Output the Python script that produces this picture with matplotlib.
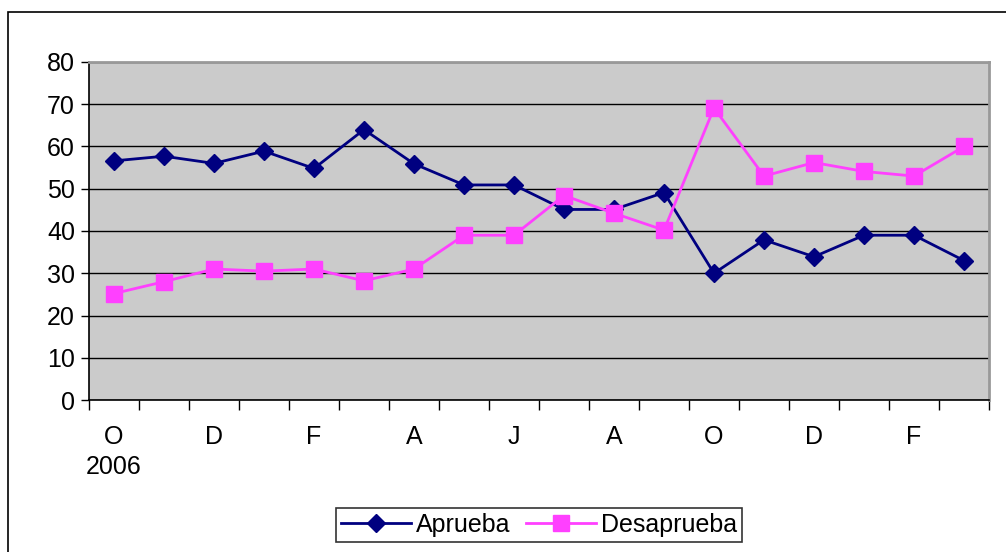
import matplotlib
matplotlib.use("Agg")
import matplotlib.pyplot as plt
from matplotlib.patches import Rectangle
import numpy as np

months = ["O", "N", "D", "E", "F", "M", "A", "M", "J", "J", "A", "S",
          "O", "N", "D", "E", "F", "M"]
aprueba = [56.6, 57.7, 56.0, 58.9, 54.8, 64.0, 55.9, 50.9, 50.9, 45.1, 45.1, 49.1,
           30.0, 37.9, 33.9, 39.0, 39.0, 33.0]
desaprueba = [25.2, 28.0, 31.0, 30.5, 31.0, 28.2, 31.0, 39.0, 39.0, 48.4, 44.2, 40.2,
              69.1, 53.0, 56.2, 54.1, 53.0, 60.0]
first_year = "2006"
yticks = [0, 10, 20, 30, 40, 50, 60, 70, 80]

plt.rcParams['font.family'] = ['Liberation Sans', 'DejaVu Sans']

W, H = 1006, 552
fig = plt.figure(figsize=(W / 100, H / 100), dpi=100)
fig.patch.set_facecolor('white')

# outer chart border (right and bottom edges lie outside the image)
fig.add_artist(Rectangle((7.5 / W, -0.2), (W + 20) / W, 0.2 + (H - 11.5) / H,
                         transform=fig.transFigure, fill=False,
                         edgecolor='black', linewidth=1.2, clip_on=False))

left, right, top, bottom = 89, 989, 62, 400
ax = fig.add_axes([left / W, 1 - bottom / H, (right - left) / W, (bottom - top) / H])
ax.set_facecolor('#CBCBCB')

x = np.arange(len(months))
ax.plot(x, aprueba, color='#000080', linewidth=2, marker='D', markersize=9,
        label='Aprueba', zorder=3)
ax.plot(x, desaprueba, color='#FF40FF', linewidth=2, marker='s', markersize=12,
        label='Desaprueba', zorder=3)

ax.set_xlim(-0.5, len(months) - 0.5)
ax.set_ylim(0, 80)
ax.set_yticks(yticks)
ax.yaxis.grid(True, color='black', linewidth=1)
ax.set_axisbelow(True)
ax.tick_params(axis='y', length=6, width=1, labelsize=18, pad=4, colors='black')

ax.set_xticks(x[::2])
labels = [m for m in months[::2]]
labels[0] = labels[0] + "\n" + first_year
ax.set_xticklabels(labels, fontsize=18, linespacing=1.3, va='top')
ax.tick_params(axis='x', length=0, pad=18)
ax.set_xticks(np.arange(-0.5, len(months), 1), minor=True)
ax.tick_params(axis='x', which='minor', length=7, width=1, color='black')

for s in ['top', 'right']:
    ax.spines[s].set_color('#999999')
    ax.spines[s].set_linewidth(2)
for s in ['left', 'bottom']:
    ax.spines[s].set_color('black')
    ax.spines[s].set_linewidth(1.2)

leg = fig.legend(loc='center', bbox_to_anchor=(539 / W, 1 - 525 / H), ncol=2,
                 fontsize=18, frameon=True, fancybox=False, edgecolor='black',
                 handlelength=2.8, handletextpad=0.2, columnspacing=0.6,
                 borderpad=0.2)
leg.get_frame().set_linewidth(1.2)

fig.savefig('out.png', dpi=100)
